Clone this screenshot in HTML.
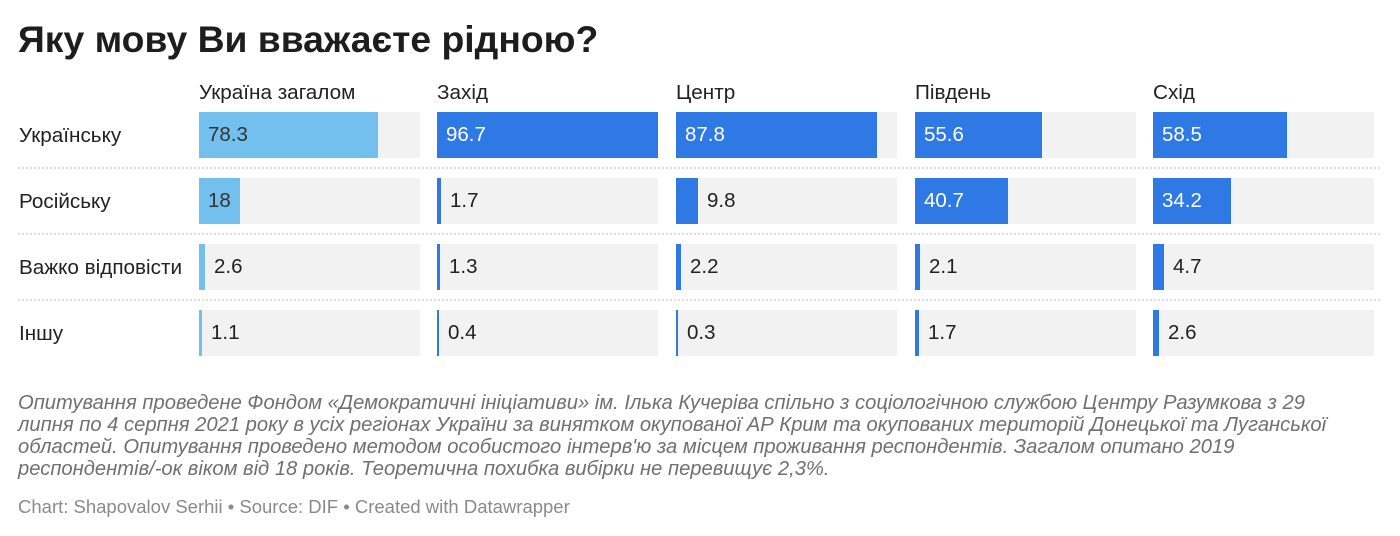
<!DOCTYPE html>
<html><head><meta charset="utf-8"><style>
body{margin:0;width:1400px;height:536px;background:#fff;position:relative;overflow:hidden;font-family:"Liberation Sans",sans-serif;color:#222}
.a{position:absolute;white-space:nowrap}
h1{position:absolute;left:18px;top:18px;margin:0;font-size:37.3px;font-weight:bold;color:#1d1d1d}
.hd{font-size:20.7px;top:81px;color:#222}
.rl{font-size:20.7px;left:19px;color:#222}
.bg{position:absolute;background:#f2f2f2;height:46px;width:221px}
.b{position:absolute;height:46px}
.v{position:absolute;font-size:20.5px;line-height:46px}
.sep{position:absolute;left:18px;width:1362px;border-top:2px dotted #ddd;height:0}
.n{font-style:italic;font-size:20.2px;color:#707070;left:18px}
.s{font-size:18.5px;color:#8a8a8a;left:18px;top:496px}
</style></head><body>
<h1>Яку мову Ви вважаєте рідною?</h1>
<div class="a hd" style="left:199px">Україна загалом</div>
<div class="a hd" style="left:437px">Захід</div>
<div class="a hd" style="left:676px">Центр</div>
<div class="a hd" style="left:915px">Південь</div>
<div class="a hd" style="left:1153px">Схід</div>
<div class="a rl" style="top:124px">Українську</div>
<div class="a rl" style="top:190px">Російську</div>
<div class="a rl" style="top:256px">Важко відповісти</div>
<div class="a rl" style="top:322px">Іншу</div>
<div class="sep" style="top:167px"></div>
<div class="sep" style="top:233px"></div>
<div class="sep" style="top:299px"></div>
<div id="c"></div>
<script>
var xs=[199,437,676,915,1153],ys=[112,178,244,310];
var d=[[78.3,18,2.6,1.1],[96.7,1.7,1.3,0.4],[87.8,9.8,2.2,0.3],[55.6,40.7,2.1,1.7],[58.5,34.2,4.7,2.6]];
var h='';
for(var c=0;c<5;c++)for(var r=0;r<4;r++){
 var v=d[c][r],w=Math.max(2,Math.round(v*221/96.7)),x=xs[c],y=ys[r];
 var col=c==0?'#73bfee':'#2f79e5';
 h+='<div class="bg" style="left:'+x+'px;top:'+y+'px"></div>';
 h+='<div class="b" style="left:'+x+'px;top:'+y+'px;width:'+w+'px;background:'+col+'"></div>';
 var inside=w>30;
 var tc=inside?(c==0?'#333':'#fff'):'#222';
 var lx=inside?x+9:x+w+9;
 h+='<div class="v" style="left:'+lx+'px;top:'+y+'px;color:'+tc+'">'+v+'</div>';
}
document.getElementById('c').innerHTML=h;
</script>
<div class="a n" style="top:392px">Опитування проведене Фондом «Демократичні ініціативи» ім. Ілька Кучеріва спільно з соціологічною службою Центру Разумкова з 29</div>
<div class="a n" style="top:414px">липня по 4 серпня 2021 року в усіх регіонах України за винятком окупованої АР Крим та окупованих територій Донецької та Луганської</div>
<div class="a n" style="top:436px">областей. Опитування проведено методом особистого інтерв'ю за місцем проживання респондентів. Загалом опитано 2019</div>
<div class="a n" style="top:458px">респондентів/-ок віком від 18 років. Теоретична похибка вибірки не перевищує 2,3%.</div>
<div class="a s">Chart: Shapovalov Serhii • Source: DIF • Created with Datawrapper</div>
</body></html>
